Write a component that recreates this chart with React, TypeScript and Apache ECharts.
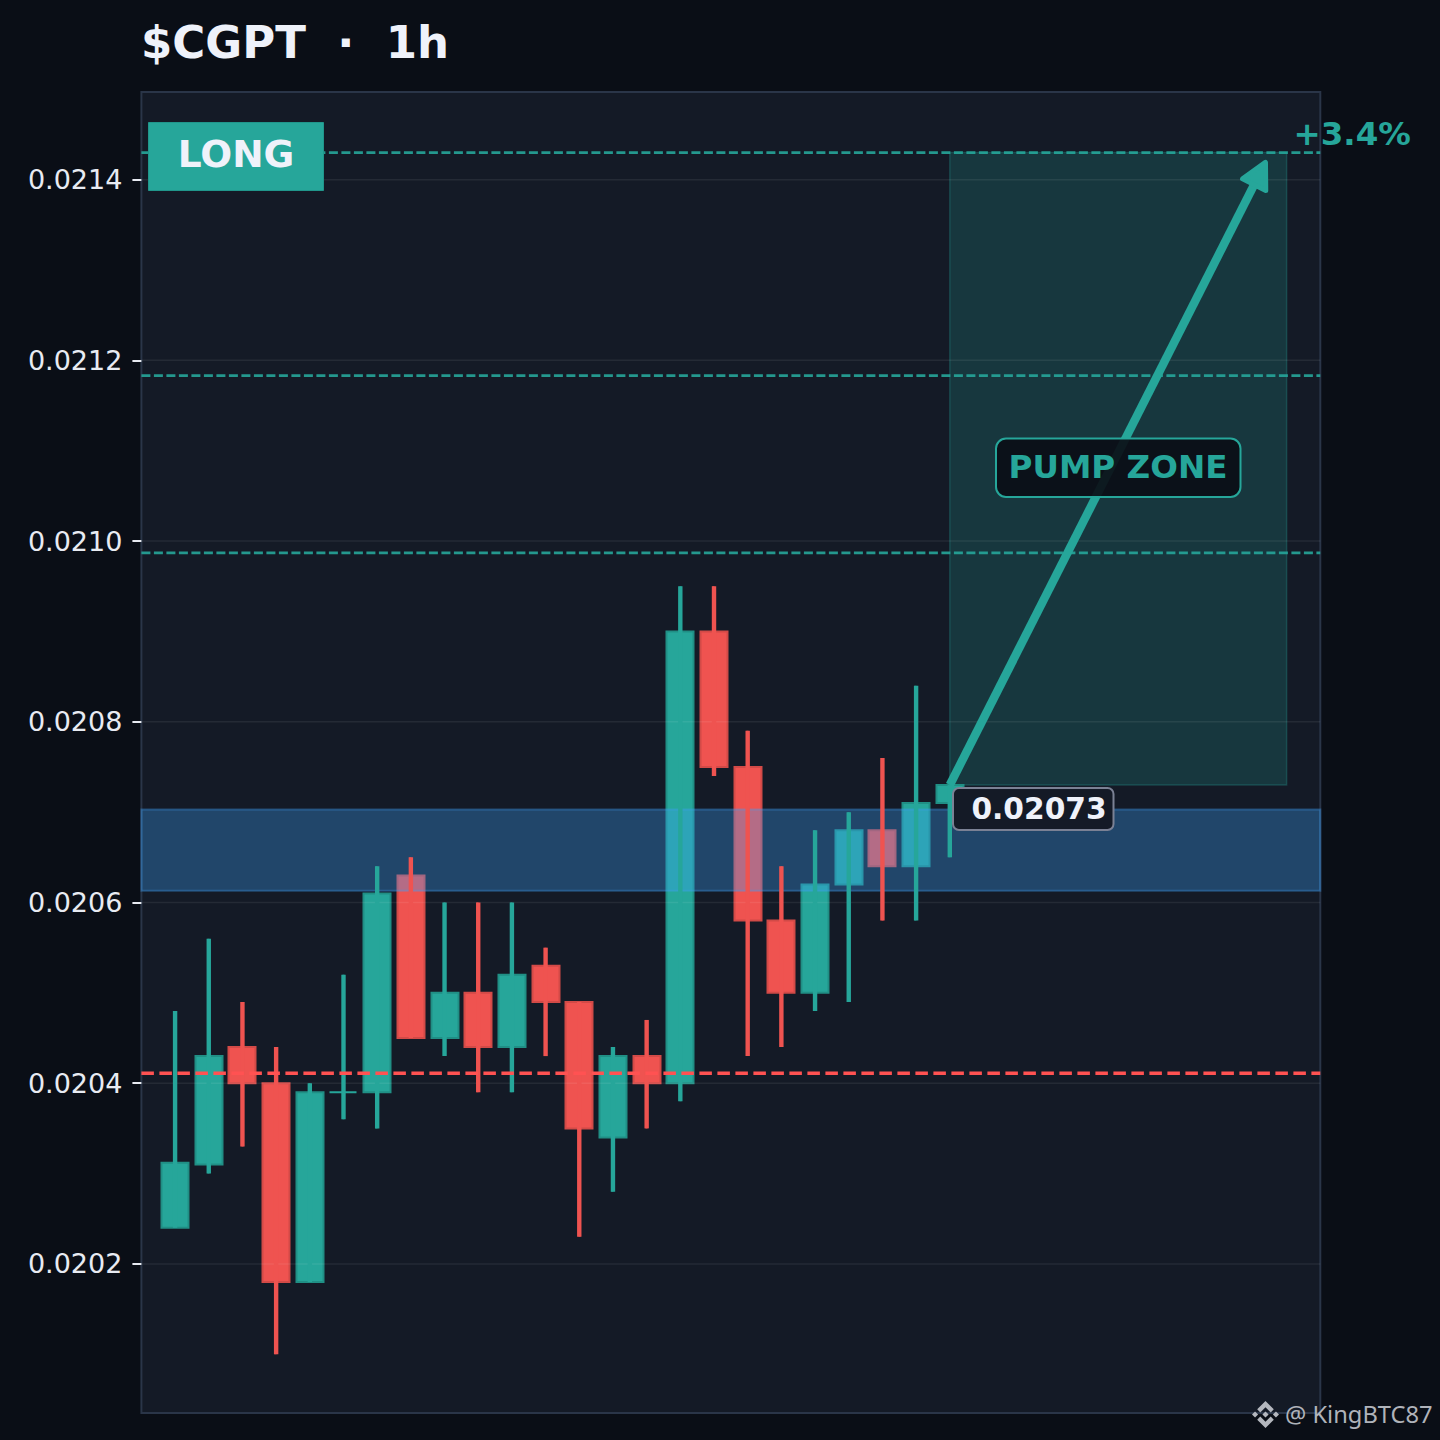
import React, { useEffect, useRef } from "react";
import * as echarts from "echarts";

const opens = [0.02024,0.02031,0.02044,0.0204,0.02018,0.02039,0.02039,0.02063,0.02045,0.0205,0.02044,0.02053,0.02049,0.02034,0.02043,0.0204,0.0209,0.02075,0.02058,0.0205,0.02062,0.02068,0.02064,0.02071];
const closes = [0.020312,0.02043,0.0204,0.02018,0.02039,0.02039,0.02061,0.02045,0.0205,0.02044,0.02052,0.02049,0.02035,0.02043,0.0204,0.0209,0.02075,0.02058,0.0205,0.02062,0.02068,0.02064,0.02071,0.02073];
const lows = [0.02024,0.0203,0.02033,0.0201,0.02018,0.02036,0.02035,0.02045,0.02043,0.02039,0.02039,0.02043,0.02023,0.02028,0.02035,0.02038,0.02074,0.02043,0.02044,0.02048,0.02049,0.02058,0.02058,0.02065];
const highs = [0.02048,0.02056,0.02049,0.02044,0.0204,0.02052,0.02064,0.02065,0.0206,0.0206,0.0206,0.02055,0.02049,0.02044,0.02047,0.02095,0.02095,0.02079,0.02064,0.02068,0.0207,0.02076,0.02084,0.02073];

const tickValues = [0.0202,0.0204,0.0206,0.0208,0.021,0.0212,0.0214];
const targetLevels = [0.02143,0.021183,0.020987];
const stopLevel = [0.020411];
const entryBand = [0.020613,0.020703];
const pumpZone = [24,34,0.02143,0.02073];
const arrowFrom = [24,0.02073];
const arrowTo = [33.52,0.02143];

const titleText = "$CGPT\u00a0\u00a0·\u00a0\u00a01h";
const sideText = "LONG";
const gainText = "+3.4%";
const zoneText = "PUMP ZONE";
const priceText = "0.02073";
const creditText = "@ KingBTC87";

const TEAL = "#26a69a";
const RED = "#ef5350";
const categories = Array.from({ length: 36 }, (_, i) => String(i));
const FONT = '"DejaVu Sans", sans-serif';

echarts.graphic.registerShape(
  "bnbLogo",
  echarts.graphic.extendPath(
    "M30.6 42.2 50 22.8l19.4 19.4 11.3-11.3L50 0.2 19.3 30.9z M0 50l11.3-11.3L22.6 50 11.3 61.3z M30.6 57.8 50 77.2l19.4-19.4 11.3 11.3L50 99.8 19.3 69.1z M77.4 50l11.3-11.3L100 50 88.7 61.3z M61.5 50 50 38.5 38.5 50 50 61.5z",
    {}
  )
);

function hLine(style: any) {
  return (_: any, api: any) => {
    const y = api.value(0);
    const a = api.coord([0, y]);
    const b = api.coord([35, y]);
    return { type: "line", shape: { x1: a[0], y1: a[1], x2: b[0], y2: b[1] }, style: { ...style, fill: null } };
  };
}

function buildOption() {
  const candleData = [
    "-",
    ...opens.map((o, i) => [o, closes[i], lows[i], highs[i]]),
  ];
  const common = { xAxisIndex: 1, yAxisIndex: 0, silent: true, animation: false };
  return {
    animation: false,
    backgroundColor: "#0a0e16",
    grid: {
      show: true,
      left: 141.4,
      top: 92,
      width: 1178.9,
      height: 1321,
      backgroundColor: "#141a26",
      borderColor: "#2a3548",
      borderWidth: 2,
    },
    xAxis: [
      {
        type: "category",
        data: categories,
        boundaryGap: false,
        axisLine: { show: false },
        axisTick: { show: false },
        axisLabel: { show: false },
        splitLine: { show: false },
      },
      { type: "value", min: 0, max: 35, show: false, position: "top", splitLine: { show: false } },
    ],
    yAxis: {
      type: "value",
      min: 0.020035,
      max: 0.021497,
      scale: true,
      axisLine: { show: false },
      splitLine: { show: false },
      axisTick: {
        show: true,
        length: 9,
        customValues: tickValues,
        lineStyle: { color: "#e8ebf2", width: 2 },
      },
      axisLabel: {
        show: true,
        margin: 19,
        customValues: tickValues,
        color: "#e8ebf2",
        fontFamily: FONT,
        fontSize: 27,
        formatter: (v: number) => v.toFixed(4),
      },
    },
    series: [
      {
        type: "candlestick",
        name: "$CGPT",
        z: 2,
        xAxisIndex: 0,
        yAxisIndex: 0,
        barWidth: 27.5,
        silent: true,
        data: candleData,
        itemStyle: {
          color: TEAL,
          color0: RED,
          borderColor: "#208f85",
          borderColor0: "#d24a47",
          borderColorDoji: TEAL,
          borderWidth: 2,
        },
      },
      {
        type: "custom",
        name: "grid",
        z: 3,
        ...common,
        data: tickValues.map((v) => [v]),
        renderItem: hLine({ stroke: "rgba(255,255,255,0.07)", lineWidth: 1.5 }),
      },
      {
        type: "custom",
        name: "zone",
        z: 2,
        ...common,
        data: [pumpZone],
        renderItem: (_: any, api: any) => {
          const a = api.coord([api.value(0), api.value(2)]);
          const b = api.coord([api.value(1), api.value(3)]);
          return {
            type: "rect",
            shape: { x: a[0], y: a[1], width: b[0] - a[0], height: b[1] - a[1] },
            style: { fill: "rgba(38,166,154,0.21)", stroke: "rgba(38,166,154,0.28)", lineWidth: 1.5 },
          };
        },
      },
      {
        type: "custom",
        name: "entry",
        z: 4,
        ...common,
        data: [entryBand],
        renderItem: (_: any, api: any) => {
          const a = api.coord([0, api.value(1)]);
          const b = api.coord([35, api.value(0)]);
          return {
            type: "rect",
            shape: { x: a[0], y: a[1], width: b[0] - a[0], height: b[1] - a[1] },
            style: { fill: "rgba(62,161,245,0.33)", stroke: "rgba(62,161,245,0.35)", lineWidth: 2 },
          };
        },
      },
      {
        type: "custom",
        name: "wicks",
        z: 5,
        ...common,
        data: highs.map((h, i) => [i + 1, lows[i], h, closes[i] >= opens[i] ? 1 : 0]),
        renderItem: (_: any, api: any) => {
          const a = api.coord([api.value(0), api.value(1)]);
          const b = api.coord([api.value(0), api.value(2)]);
          return {
            type: "line",
            shape: { x1: a[0], y1: a[1], x2: b[0], y2: b[1] },
            style: { stroke: api.value(3) ? TEAL : RED, lineWidth: 4.4 },
          };
        },
      },
      {
        type: "custom",
        name: "targets",
        z: 6,
        ...common,
        data: targetLevels.map((v) => [v]),
        renderItem: hLine({ stroke: "rgba(38,166,154,0.9)", lineWidth: 2.8, lineDash: [9, 3.5] }),
      },
      {
        type: "custom",
        name: "stop",
        z: 6,
        ...common,
        data: stopLevel.map((v) => [v]),
        renderItem: hLine({ stroke: "#ff5252", lineWidth: 3.5, lineDash: [12.5, 5.5] }),
      },
      {
        type: "custom",
        name: "arrow",
        z: 7,
        ...common,
        data: [[...arrowFrom, ...arrowTo]],
        renderItem: (_: any, api: any) => {
          const s = api.coord([api.value(0), api.value(1)]);
          const e = api.coord([api.value(2), api.value(3)]);
          const len = Math.hypot(e[0] - s[0], e[1] - s[1]);
          const d = [(e[0] - s[0]) / len, (e[1] - s[1]) / len];
          const n = [-d[1], d[0]];
          const tip = [e[0] - d[0] * 11, e[1] - d[1] * 11];
          const base = [tip[0] - d[0] * 25, tip[1] - d[1] * 25];
          return {
            type: "group",
            children: [
              {
                type: "line",
                shape: { x1: s[0], y1: s[1], x2: base[0], y2: base[1] },
                style: { stroke: TEAL, lineWidth: 8.5 },
              },
              {
                type: "polygon",
                shape: {
                  points: [
                    tip,
                    [base[0] + n[0] * 13, base[1] + n[1] * 13],
                    [base[0] - n[0] * 13, base[1] - n[1] * 13],
                  ],
                },
                style: { fill: TEAL, stroke: TEAL, lineWidth: 5, lineJoin: "round" },
              },
            ],
          };
        },
      },
    ],
    graphic: [
      {
        type: "text",
        z: 100,
        x: 141,
        y: 42,
        style: { text: titleText, fill: "#eff2fa", font: `bold 45px ${FONT}`, verticalAlign: "middle" },
      },
      {
        type: "rect",
        z: 100,
        shape: { x: 148.5, y: 122.5, width: 175, height: 68 },
        style: { fill: TEAL, stroke: "#20968b", lineWidth: 1 },
      },
      {
        type: "text",
        z: 101,
        x: 236,
        y: 154,
        style: { text: sideText, fill: "#eff2fa", font: `bold 37.5px ${FONT}`, align: "center", verticalAlign: "middle" },
      },
      {
        type: "text",
        z: 100,
        x: 1293.5,
        y: 133.5,
        style: { text: gainText, fill: TEAL, font: `bold 32.5px ${FONT}`, verticalAlign: "middle" },
      },
      {
        type: "rect",
        z: 100,
        shape: { x: 996, y: 438.5, width: 244.5, height: 58.5, r: 10 },
        style: { fill: "rgba(11,14,22,0.92)", stroke: TEAL, lineWidth: 2 },
      },
      {
        type: "text",
        z: 101,
        x: 1118,
        y: 467,
        style: { text: zoneText, fill: TEAL, font: `bold 32.6px ${FONT}`, align: "center", verticalAlign: "middle" },
      },
      {
        type: "rect",
        z: 100,
        shape: { x: 953, y: 788, width: 160.5, height: 42, r: 6 },
        style: { fill: "#141a26", stroke: "#7b8194", lineWidth: 2 },
      },
      {
        type: "text",
        z: 101,
        x: 1039,
        y: 808,
        style: { text: priceText, fill: "#eff2fa", font: `bold 29.7px ${FONT}`, align: "center", verticalAlign: "middle" },
      },
      {
        type: "bnbLogo",
        z: 100,
        x: 1252,
        y: 1401,
        scaleX: 0.27,
        scaleY: 0.27,
        style: { fill: "#b4b7be" },
      },
      {
        type: "text",
        z: 100,
        x: 1285,
        y: 1414,
        style: { text: creditText, fill: "#b0b3ba", font: `23.7px "Noto Sans", sans-serif`, verticalAlign: "middle" },
      },
    ],
  };
}

export default function App() {
  const ref = useRef<HTMLDivElement>(null);
  useEffect(() => {
    document.body.style.margin = "0";
    const chart = echarts.init(ref.current!, undefined, { renderer: "svg" });
    chart.setOption(buildOption() as any);
    return () => chart.dispose();
  }, []);
  return <div ref={ref} style={{ position: "absolute", left: 0, top: 0, width: 1440, height: 1440 }} />;
}
